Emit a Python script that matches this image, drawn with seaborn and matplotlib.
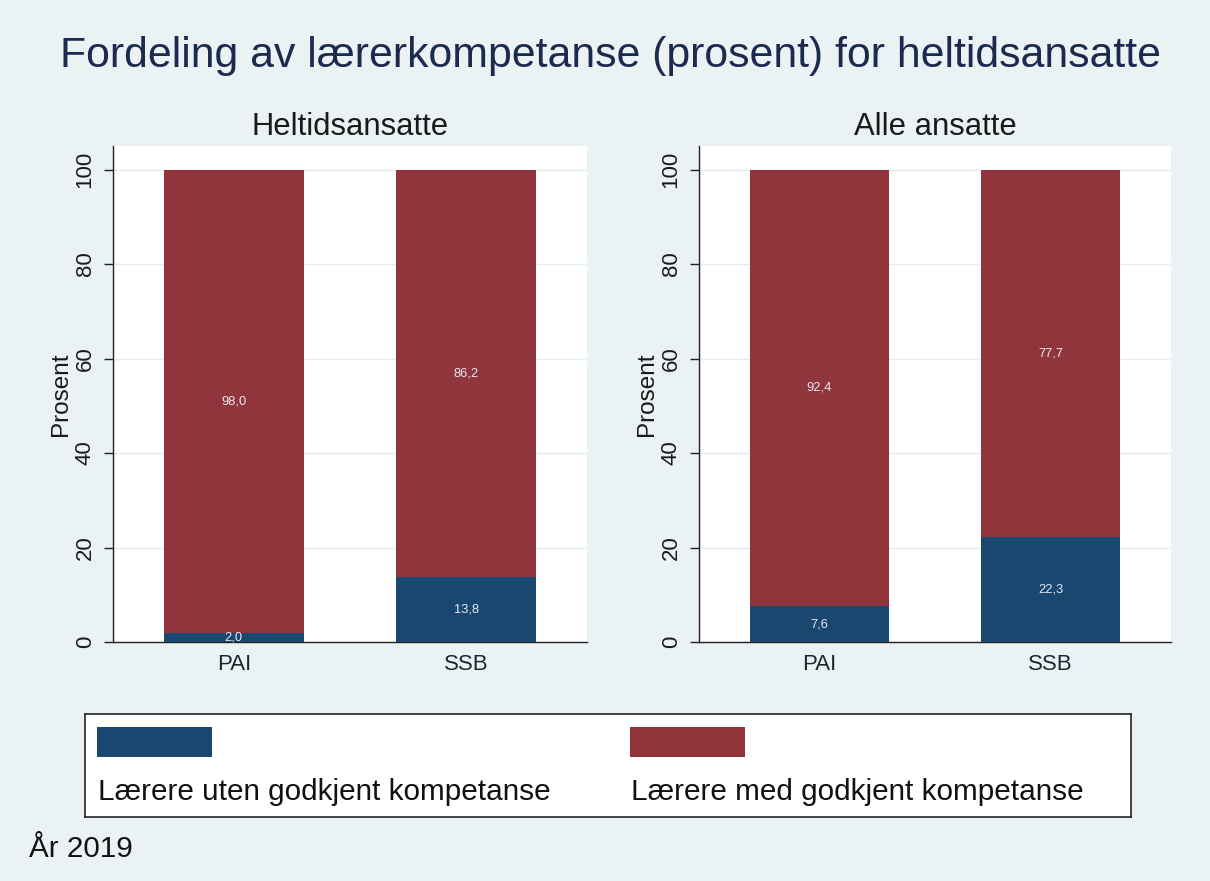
import matplotlib
matplotlib.use("Agg")
import matplotlib.pyplot as plt
from matplotlib.patches import Rectangle
import seaborn as sns
import pandas as pd

# ---- data ----
title = "Fordeling av lærerkompetanse (prosent) for heltidsansatte"
panels = ["Heltidsansatte", "Alle ansatte"]
kilder = ["PAI", "SSB"]
uten_heltid = [2.0, 13.8]
med_heltid = [98.0, 86.2]
uten_alle = [7.6, 22.3]
med_alle = [92.4, 77.7]
series_names = ["Lærere uten godkjent kompetanse", "Lærere med godkjent kompetanse"]
yticks = [0, 20, 40, 60, 80, 100]
ylabel = "Prosent"
note = "År 2019"

BLUE = "#1a476f"
RED = "#90353b"
BG = "#eaf2f3"
NAVY = "#1c2a50"

sns.set_style("white")
plt.rcParams["font.family"] = ["Liberation Sans", "DejaVu Sans"]

W, H = 1210, 881
fig = plt.figure(figsize=(W / 100, H / 100), dpi=100, facecolor=BG)

def fx(px):
    return px / W

def fy(py):
    return 1 - py / H

axes_px = [(113, 587), (699, 1171)]
top_px, bot_px = 146, 642

panel_data = [(uten_heltid, med_heltid), (uten_alle, med_alle)]

for (x0, x1), name, (uten, med) in zip(axes_px, panels, panel_data):
    ax = fig.add_axes([fx(x0), fy(bot_px), fx(x1 - x0), (bot_px - top_px) / H])
    ax.set_facecolor("white")
    df = pd.DataFrame({"kilde": kilder, "uten": uten, "med": med})
    df["total"] = df["uten"] + df["med"]
    sns.barplot(data=df, x="kilde", y="total", color=RED, width=0.6,
                saturation=1, ax=ax, zorder=2, linewidth=0)
    sns.barplot(data=df, x="kilde", y="uten", color=BLUE, width=0.6,
                saturation=1, ax=ax, zorder=3, linewidth=0)
    for i, row in df.iterrows():
        ax.text(i, row["uten"] / 2, f"{row['uten']:.1f}".replace(".", ","),
                ha="center", va="center", fontsize=9.3, color="#e8e8f2", zorder=5)
        ax.text(i, row["uten"] + row["med"] / 2, f"{row['med']:.1f}".replace(".", ","),
                ha="center", va="center", fontsize=9.3, color="#e8e8f2", zorder=5)
    ax.set_xlim(-0.52, 1.52)
    ax.set_ylim(0, 105)
    ax.set_yticks(yticks)
    ax.set_yticklabels([str(t) for t in yticks], rotation=90, va="center",
                       fontsize=16, color="#1a1a1a")
    ax.yaxis.grid(True, color="#e4eced", linewidth=1, zorder=0)
    ax.xaxis.grid(False)
    ax.set_axisbelow(True)
    ax.tick_params(axis="y", left=True, length=6.5, width=1, color="#222222", pad=6)
    ax.tick_params(axis="x", bottom=False, length=0, pad=9, labelsize=16,
                   labelcolor="#1e2433")
    ax.set_xlabel("")
    ax.set_ylabel(ylabel, fontsize=17.5, color="#1a1a1a", labelpad=2)
    for s in ["top", "right"]:
        ax.spines[s].set_visible(False)
    for s in ["left", "bottom"]:
        ax.spines[s].set_color("#222222")
        ax.spines[s].set_linewidth(1)
    fig.text(fx((x0 + x1) / 2), fy(135), name, ha="center", va="baseline",
             fontsize=22.3, color="#1a1a1a")

fig.text(fx(610), fy(67), title, ha="center", va="baseline", fontsize=30.8, color=NAVY)

# legend box
lx0, lx1, ly0, ly1 = 85, 1131, 714, 817
la = fig.add_axes([fx(lx0), fy(ly1), fx(lx1 - lx0), (ly1 - ly0) / H])
la.set_xlim(lx0, lx1)
la.set_ylim(ly1, ly0)
la.set_facecolor("white")
la.set_xticks([])
la.set_yticks([])
for s in la.spines.values():
    s.set_visible(True)
    s.set_color("#222222")
    s.set_linewidth(1.2)
for px, col, lab in zip([97, 630], [BLUE, RED], series_names):
    la.add_patch(Rectangle((px, 727), 115, 30, facecolor=col, edgecolor="none"))
    la.text(px + 1, 800, lab, ha="left", va="baseline", fontsize=21.4, color="#111111")

fig.text(fx(29), fy(857), note, ha="left", va="baseline", fontsize=21.3, color="#111111")

fig.savefig("out.png", dpi=100, facecolor=BG)
